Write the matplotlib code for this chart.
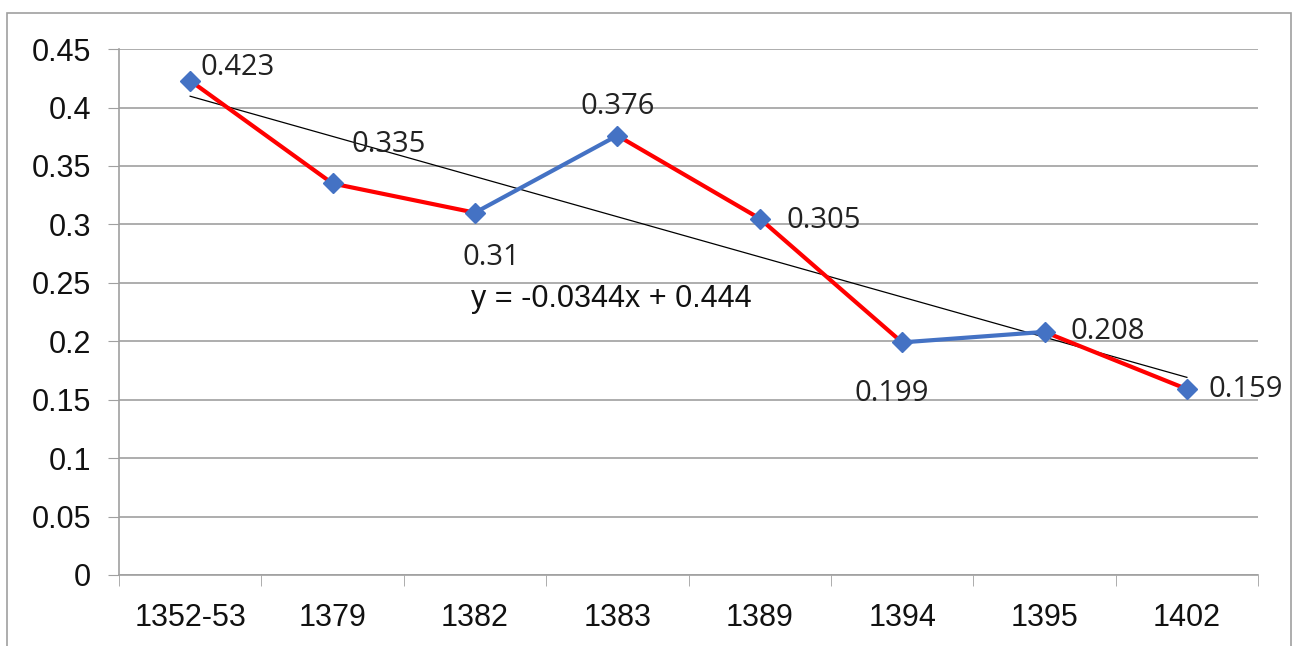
import numpy as np
import matplotlib.pyplot as plt
from matplotlib.patches import Rectangle

years = ["1352-53", "1379", "1382", "1383", "1389", "1394", "1395", "1402"]
values = [0.423, 0.335, 0.31, 0.376, 0.305, 0.199, 0.208, 0.159]
# label offsets in pixels (left edge dx, vertical centre dy)
label_offsets = [(10, 13), (19, 39), (-12, -45), (-37, 29), (27, -2), (-48, -51), (26, 0), (22, 0)]

x = np.arange(1, len(years) + 1)

fig = plt.figure(figsize=(12.93, 6.46), dpi=100)
ax = fig.add_axes([0.092, 0.110, 0.881, 0.814])

fig.patches.append(Rectangle((0.0054, -0.02), 0.993, 1.0, transform=fig.transFigure,
                             fill=False, edgecolor="#a0a0a0", linewidth=1.2))

# trendline
slope, inter = np.polyfit(x, values, 1)
ax.plot([x[0], x[-1]], [slope * x[0] + inter, slope * x[-1] + inter],
        color="black", linewidth=0.9, zorder=3)

# segments: red going down, blue going up
for i in range(len(values) - 1):
    col = "#ff0000" if values[i + 1] < values[i] else "#4472c4"
    ax.plot(x[i:i + 2], values[i:i + 2], color=col, linewidth=3, zorder=4,
            solid_capstyle="round")
ax.plot(x, values, linestyle="none", marker="D", markersize=10,
        color="#4472c4", zorder=5)

for xi, v, (dx, dy) in zip(x, values, label_offsets):
    ax.annotate(f"{v:g}", (xi, v), xytext=(dx, dy), textcoords="offset pixels",
                ha="left", va="center", fontsize=21, family="Open Sans",
                color="#222222", zorder=6)

ax.text(3.96, 0.236, "y = -0.0344x + 0.444", fontsize=22, family="Liberation Sans",
        ha="center", va="center", color="#111111")

ax.set_xlim(0.5, 8.5)
ax.set_ylim(0, 0.45)
ax.set_yticks(np.arange(0, 0.451, 0.05))
ax.set_yticklabels(["0", "0.05", "0.1", "0.15", "0.2", "0.25", "0.3", "0.35", "0.4", "0.45"])
ax.set_xticks(x)
ax.set_xticklabels(years)
ax.set_xticks(np.arange(0.5, 8.6, 1), minor=True)
ax.tick_params(axis="x", which="major", length=0, pad=20)
ax.tick_params(axis="x", which="minor", length=8, color="#a0a0a0", direction="out")
ax.tick_params(axis="y", length=8, color="#a0a0a0", pad=12)
for lab in ax.get_xticklabels() + ax.get_yticklabels():
    lab.set_fontsize(22)
    lab.set_family("Liberation Sans")
    lab.set_color("#111111")

ax.grid(axis="y", color="#a0a0a0", linewidth=1.2)
ax.set_axisbelow(True)
for s in ["top", "right"]:
    ax.spines[s].set_visible(False)
for s in ["left", "bottom"]:
    ax.spines[s].set_color("#a0a0a0")
    ax.spines[s].set_linewidth(1.2)

fig.savefig("out.png", dpi=100)
